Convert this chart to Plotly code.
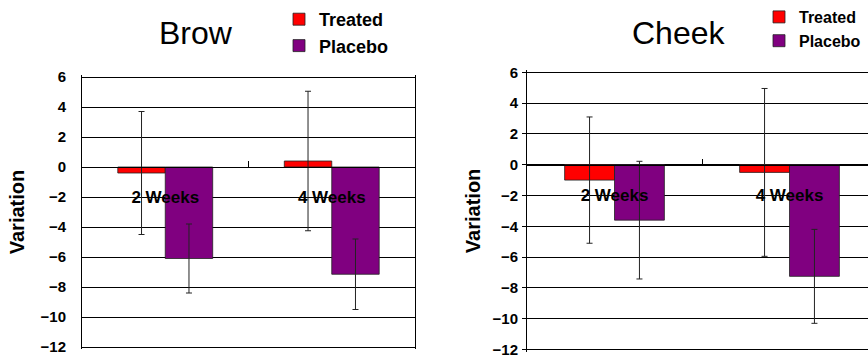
import plotly.graph_objects as go

categories = ["2 Weeks", "4 Weeks"]

brow_treated = [-0.4, 0.4]
brow_treated_err = [4.1, 4.65]
brow_placebo = [-6.1, -7.15]
brow_placebo_err = [2.3, 2.35]

cheek_treated = [-1.0, -0.5]
cheek_treated_err = [4.1, 5.45]
cheek_placebo = [-3.6, -7.25]
cheek_placebo_err = [3.82, 3.05]

y_ticks = [6, 4, 2, 0, -2, -4, -6, -8, -10, -12]
EPS = 0.15
y_range = [-12 - EPS, 6 + EPS]

RED = "#FF0000"
PURPLE = "#800080"
W, H = 868, 359
FONT = "Liberation Sans, Arial, sans-serif"

fig = go.Figure()

def add_bars(xa, ya, legend, t, te, p, pe):
    fig.add_trace(go.Bar(
        x=categories, y=t, name="Treated", xaxis=xa, yaxis=ya, legend=legend,
        marker=dict(color=RED, line=dict(color="#222222", width=0.8)),
        error_y=dict(type="data", array=te, visible=True, color="#222222", thickness=1, width=3),
    ))
    fig.add_trace(go.Bar(
        x=categories, y=p, name="Placebo", xaxis=xa, yaxis=ya, legend=legend,
        marker=dict(color=PURPLE, line=dict(color="#222222", width=0.8)),
        error_y=dict(type="data", array=pe, visible=True, color="#222222", thickness=1, width=3),
    ))

add_bars("x", "y", "legend", brow_treated, brow_treated_err, brow_placebo, brow_placebo_err)
add_bars("x2", "y2", "legend2", cheek_treated, cheek_treated_err, cheek_placebo, cheek_placebo_err)

# domains (pixels -> paper); pixel positions of value 6 and -12, padded by EPS
def ydom(top_px, bot_px):
    scale = (bot_px - top_px) / 18.0
    return [(H - (bot_px + EPS * scale)) / H, (H - (top_px - EPS * scale)) / H]

L_x = [82 / W, 415 / W]
L_y = ydom(77, 347)
R_x = [527 / W, 1.0]
R_y = ydom(72.3, 349.5)

def zero_pos(dom):
    return dom[0] + (0 - y_range[0]) / (y_range[1] - y_range[0]) * (dom[1] - dom[0])

tickfont = dict(family=FONT, size=15, color="black", weight="bold")

def xaxis(dom, yd, rng):
    return dict(
        domain=dom, anchor="free", position=zero_pos(yd), type="category",
        range=rng, showline=True, linecolor="black", linewidth=1,
        ticks="inside", tickson="boundaries", ticklen=6, tickcolor="black",
        showgrid=False, zeroline=False,
        tickfont=dict(family=FONT, size=17, color="black", weight="bold"),
        ticklabelstandoff=15, fixedrange=True, automargin=False,
    )

def yaxis(dom, anchor, ticklen, standoff, title_standoff):
    return dict(
        domain=dom, anchor=anchor, range=y_range, tickvals=y_ticks,
        showline=True, linecolor="black", linewidth=1, mirror=True,
        showgrid=True, gridcolor="black", gridwidth=1,
        zeroline=True, zerolinecolor="black", zerolinewidth=1,
        ticks="outside" if ticklen else "", ticklen=ticklen, tickcolor="black",
        tickfont=tickfont, ticklabelstandoff=standoff, automargin=False,
        title=dict(text="Variation", font=dict(family=FONT, size=20, color="black", weight="bold"),
                   standoff=title_standoff),
    )

fig.update_layout(
    width=W, height=H,
    margin=dict(l=0, r=0, t=0, b=0, autoexpand=False),
    paper_bgcolor="white", plot_bgcolor="white",
    barmode="group", bargap=0.43, bargroupgap=0,
    xaxis=xaxis(L_x, L_y, [-0.5, 1.5]),
    yaxis=yaxis(L_y, "x", 0, 12, 10),
    xaxis2=xaxis(R_x, R_y, [-0.5, -0.5 + (W - 527) / 175]),
    yaxis2=yaxis(R_y, "x2", 4, 1, 6),
    legend=dict(x=279 / W, y=1 - 1 / H, xanchor="left", yanchor="top",
                font=dict(family=FONT, size=18, color="black", weight="bold"),
                bgcolor="rgba(0,0,0,0)", tracegroupgap=0),
    legend2=dict(x=759 / W, y=1 - 0 / H, xanchor="left", yanchor="top",
                 font=dict(family=FONT, size=16, color="black", weight="bold"),
                 bgcolor="rgba(0,0,0,0)", tracegroupgap=0),
    annotations=[
        dict(text="Brow", x=196 / W, y=1 - 33 / H, xref="paper", yref="paper",
             showarrow=False, xanchor="center", yanchor="middle",
             font=dict(family=FONT, size=32, color="black")),
        dict(text="Cheek", x=679 / W, y=1 - 33 / H, xref="paper", yref="paper",
             showarrow=False, xanchor="center", yanchor="middle",
             font=dict(family=FONT, size=32, color="black")),
    ],
)

fig.write_html("out.html", config={"displayModeBar": False},
               post_script="document.body.style.margin='0';")
